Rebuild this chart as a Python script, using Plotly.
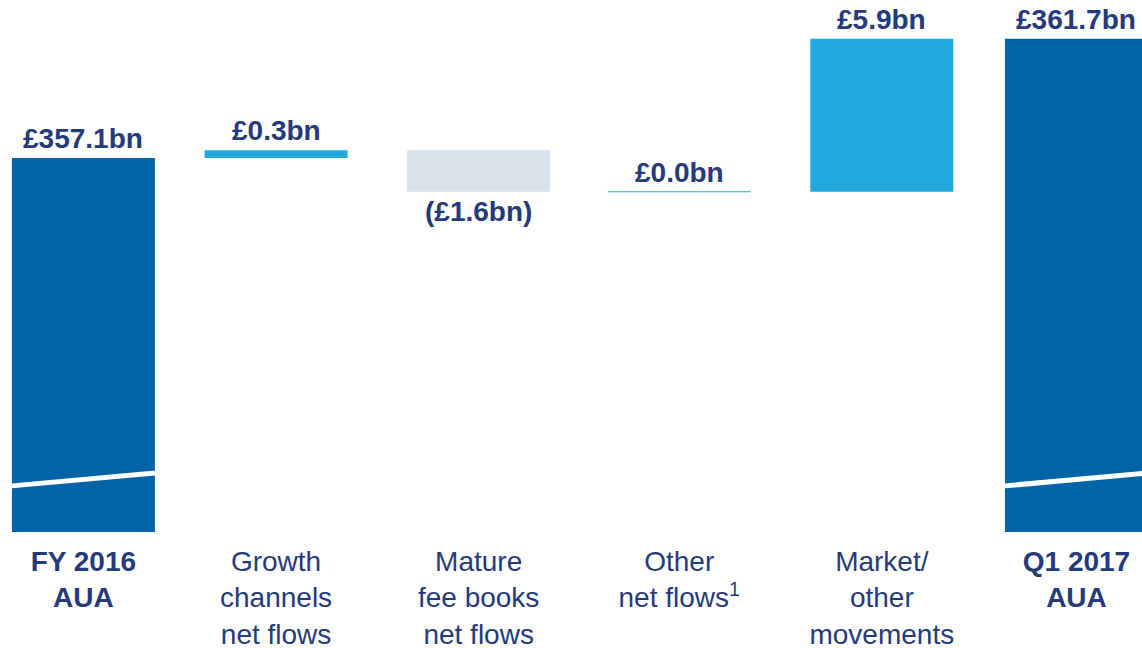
import plotly.graph_objects as go

# data
categories = ["<b>FY 2016<br>AUA</b>", "Growth<br>channels<br>net flows", "Mature<br>fee books<br>net flows",
              "Other<br>net flows<sup>1</sup>", "Market/<br>other<br>movements", "<b>Q1 2017<br>AUA</b>"]
values = [357.1, 0.3, -1.6, 0.0, 5.9, 361.7]
measures = ["total", "relative", "relative", "relative", "relative", "total"]
value_labels = ["£357.1bn", "£0.3bn", "(£1.6bn)", "£0.0bn", "£5.9bn", "£361.7bn"]

# style
NAVY = "#253a7a"
DARK = "#0064a6"
LIGHT = "#1fa9df"
GREY = "#d9e1ea"
FONT = "Liberation Sans, Arial, sans-serif"
Y_MIN, Y_MAX = 342.67, 363.2
BAR_W = 0.72
BAR_POS = [0, 0.97, 1.99, 3.0, 4.02, 5.0]  # slot positions (slightly uneven, as in the slide)
BREAK = (344.45, 344.95)  # broken-axis marker on total bars

bases, heights, colors = [], [], []
running = 0.0
for v, m in zip(values, measures):
    if m == "total":
        bases.append(Y_MIN)
        heights.append(v - Y_MIN)
        colors.append(DARK)
        running = v
    else:
        bases.append(running)
        heights.append(v)
        colors.append(LIGHT if v >= 0 else GREY)
        running += v

fig = go.Figure()
fig.add_trace(go.Bar(x=BAR_POS, y=heights, base=bases, width=BAR_W,
                     marker=dict(color=colors, line=dict(width=0)), hoverinfo="skip"))

# zero-movement bars shown as a thin line
for i, (v, m) in enumerate(zip(values, measures)):
    if m == "relative" and v == 0:
        p = BAR_POS[i]
        fig.add_trace(go.Scatter(x=[p - BAR_W / 2, p + BAR_W / 2], y=[bases[i], bases[i]], mode="lines",
                                 line=dict(color=LIGHT, width=1), hoverinfo="skip"))

# value labels
for i, (v, lab) in enumerate(zip(values, value_labels)):
    top = bases[i] + max(heights[i], 0)
    bottom = bases[i] + min(heights[i], 0)
    if v < 0:
        fig.add_annotation(x=BAR_POS[i], y=bottom, text=f"<b>{lab}</b>", yanchor="top", yshift=-2,
                           showarrow=False, font=dict(size=28, color=NAVY, family=FONT))
    else:
        fig.add_annotation(x=BAR_POS[i], y=top, text=f"<b>{lab}</b>", yanchor="bottom", yshift=2,
                           showarrow=False, font=dict(size=28, color=NAVY, family=FONT))

# break marks on total bars
for i, m in enumerate(measures):
    if m == "total":
        p = BAR_POS[i]
        fig.add_shape(type="line", x0=p - BAR_W / 2, x1=p + BAR_W / 2, y0=BREAK[0], y1=BREAK[1],
                      line=dict(color="white", width=5))

fig.update_layout(
    width=1142, height=648,
    margin=dict(l=0, r=0, t=0, b=116),
    plot_bgcolor="white", paper_bgcolor="white",
    showlegend=False,
    font=dict(family=FONT, color=NAVY, size=28),
    xaxis=dict(range=[-0.42, 5.33], tickmode="array", tickvals=BAR_POS, ticktext=categories,
               showgrid=False, zeroline=False, showline=False, ticks="", ticklabelstandoff=10,
               automargin=False, tickfont=dict(size=28, color=NAVY, family=FONT)),
    yaxis=dict(range=[Y_MIN, Y_MAX], visible=False, automargin=False),
)

fig.write_html("out.html", config={"displayModeBar": False},
               post_script="document.body.style.margin='0';")
